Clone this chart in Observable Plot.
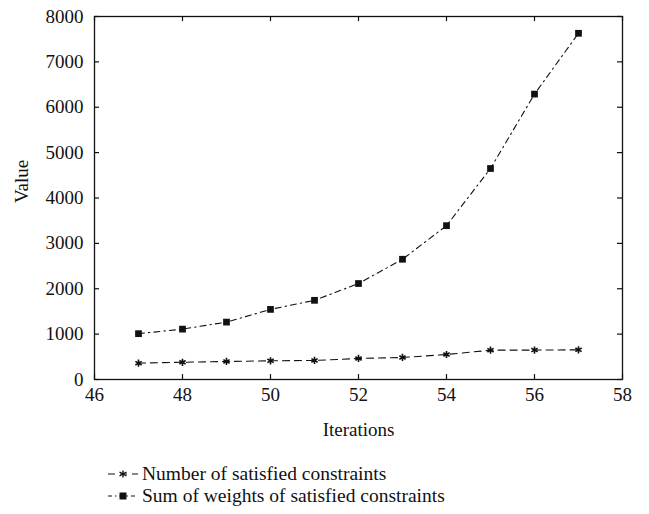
<!DOCTYPE html>
<html>
<head>
<meta charset="utf-8">
<script src="https://cdn.jsdelivr.net/npm/d3@7"></script>
<script src="https://cdn.jsdelivr.net/npm/@observablehq/plot@0.6"></script>
<style>
  html, body { margin: 0; padding: 0; background: #fff; }
  body { width: 649px; height: 514px; overflow: hidden; font-family: "Liberation Serif", serif; }
  #chart svg, #chart svg text { font-family: "Liberation Serif", serif !important; font-size: 19px !important; fill: #111; }
  #legend { position: relative; height: 69px; }
  .row { position: absolute; left: 108px; display: flex; align-items: center; font-size: 19.5px; color: #111; white-space: nowrap; }
  .row svg { margin-right: 4px; }
</style>
</head>
<body>
<div id="chart"></div>
<div id="legend"></div>
<script>
const iterations = [47, 48, 49, 50, 51, 52, 53, 54, 55, 56, 57];
const satisfiedCount = [360, 380, 397, 412, 420, 463, 485, 551, 646, 648, 654];
const satisfiedWeights = [1010, 1110, 1265, 1545, 1745, 2115, 2650, 3390, 4650, 6290, 7630];
const seriesNames = ["Number of satisfied constraints", "Sum of weights of satisfied constraints"];
const xTicks = [46, 48, 50, 52, 54, 56, 58];
const yTicks = [0, 1000, 2000, 3000, 4000, 5000, 6000, 7000, 8000];
const xLabel = "Iterations";
const yLabel = "Value";

const countData = iterations.map((x, i) => ({x, y: satisfiedCount[i]}));
const weightData = iterations.map((x, i) => ({x, y: satisfiedWeights[i]}));

const W = 649, H = 445, mT = 16, mB = 66, mL = 94, mR = 27;
const innerH = H - mT - mB, innerW = W - mL - mR;
const tk = 5;

const chart = Plot.plot({
  width: W, height: H,
  marginTop: mT, marginBottom: mB, marginLeft: mL, marginRight: mR,
  style: {background: "#fff", color: "#111"},
  x: {domain: [46, 58]},
  y: {domain: [0, 8000]},
  marks: [
    Plot.frame({stroke: "#111", strokeWidth: 1.3}),
    Plot.tickX(xTicks, {x: d => d, insetTop: innerH - tk, stroke: "#111", strokeWidth: 1.2}),
    Plot.tickX(xTicks, {x: d => d, insetBottom: innerH - tk, stroke: "#111", strokeWidth: 1.2}),
    Plot.tickY(yTicks, {y: d => d, insetRight: innerW - tk, stroke: "#111", strokeWidth: 1.2}),
    Plot.tickY(yTicks, {y: d => d, insetLeft: innerW - tk, stroke: "#111", strokeWidth: 1.2}),
    Plot.axisX({ticks: xTicks, tickSize: 0, tickPadding: 8, tickFormat: d => String(d), label: xLabel, labelAnchor: "center", labelArrow: "none", labelOffset: 56}),
    Plot.axisY({ticks: yTicks, tickSize: 0, tickPadding: 11, tickFormat: d => String(d), label: null}),
    Plot.text([yLabel], {text: d => d, frameAnchor: "left", rotate: -90, dx: -73, dy: 5, fill: "#111"}),
    Plot.line(countData, {x: "x", y: "y", stroke: "#111", strokeWidth: 1.1, strokeDasharray: "7,5"}),
    Plot.dot(countData, {x: "x", y: "y", symbol: "asterisk", r: 3.4, stroke: "#111", strokeWidth: 1.6}),
    Plot.line(weightData, {x: "x", y: "y", stroke: "#111", strokeWidth: 1.1, strokeDasharray: "6,4,1.5,4"}),
    Plot.dot(weightData, {x: "x", y: "y", symbol: "square", r: 3.8, fill: "#111", stroke: "none"})
  ]
});
document.getElementById("chart").appendChild(chart);

const legend = document.getElementById("legend");
const styles = [
  {dash: "7,5", marker: "star"},
  {dash: "4,3,1.5,3", marker: "square"}
];
const centers = [29, 51];
seriesNames.forEach((name, i) => {
  const row = document.createElement("div");
  row.className = "row";
  row.style.top = (centers[i] - 11) + "px";
  const s = styles[i];
  let mk;
  if (s.marker === "square") mk = `<rect x="11.5" y="7.5" width="7" height="7" fill="#111"/>`;
  else mk = `<g stroke="#111" stroke-width="1.4"><line x1="15" y1="7.5" x2="15" y2="14.5"/><line x1="11.5" y1="9" x2="18.5" y2="13"/><line x1="11.5" y1="13" x2="18.5" y2="9"/></g>`;
  row.innerHTML = `<svg width="30" height="22"><line x1="0" y1="11" x2="30" y2="11" stroke="#111" stroke-width="1.1" stroke-dasharray="${s.dash}"/>${mk}</svg><span>${name}</span>`;
  legend.appendChild(row);
});
</script>
</body>
</html>
